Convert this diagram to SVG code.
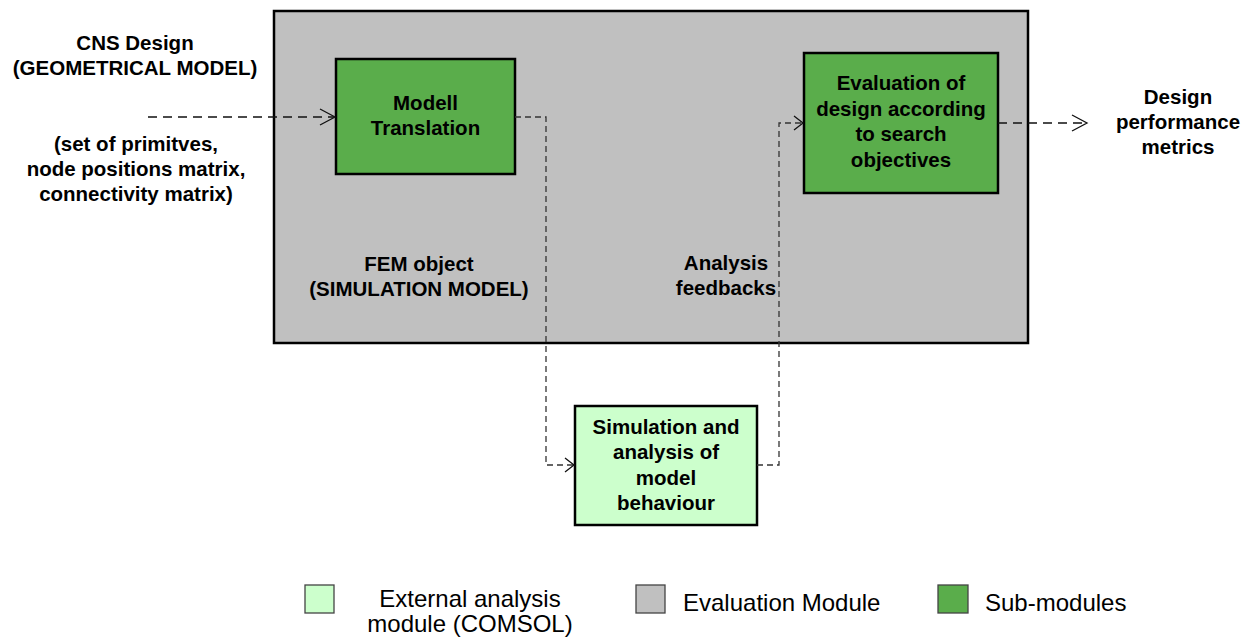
<svg xmlns="http://www.w3.org/2000/svg" width="1260" height="642" viewBox="0 0 1260 642">
  <defs>
    <style>
      .lbl { font-family: "Liberation Sans", Arial, sans-serif; font-weight: bold; font-size: 20.5px; fill: #000; text-anchor: middle; }
      .leg { font-family: "Liberation Sans", Arial, sans-serif; font-size: 24px; fill: #000; }
      .box { stroke: #000; stroke-width: 2.5; }
      .module { fill: #5AAD4B; }
      .external { fill: #CCFFCC; }
      .eval { fill: #C0C0C0; }
      .flow { fill: none; stroke: #333; stroke-width: 1.3; stroke-dasharray: 6 4; }
      .io { fill: none; stroke: #111; stroke-width: 1.5; stroke-dasharray: 9 6; }
      .head { fill: none; stroke: #111; stroke-width: 1.3; }
    </style>
  </defs>

  <rect width="1260" height="642" fill="#fff"/>

  <!-- Evaluation module container -->
  <g id="evaluation-module">
    <rect x="274" y="11" width="754" height="332" class="box eval"/>
    <text class="lbl" x="419" y="271">FEM object</text>
    <text class="lbl" x="419" y="296">(SIMULATION MODEL)</text>
    <text class="lbl" x="726" y="270">Analysis</text>
    <text class="lbl" x="726" y="295">feedbacks</text>
  </g>

  <!-- input description -->
  <g id="input-design">
    <text class="lbl" x="135" y="50">CNS Design</text>
    <text class="lbl" x="135" y="75">(GEOMETRICAL MODEL)</text>
    <text class="lbl" x="136" y="151">(set of primitves,</text>
    <text class="lbl" x="136" y="176">node positions matrix,</text>
    <text class="lbl" x="136" y="201">connectivity matrix)</text>
  </g>

  <g id="modell-translation">
    <rect x="336" y="59" width="179" height="115" class="box module"/>
    <text class="lbl" x="425.5" y="110">Modell</text>
    <text class="lbl" x="425.5" y="135">Translation</text>
  </g>

  <g id="design-evaluation">
    <rect x="804" y="53" width="194" height="140" class="box module"/>
    <text class="lbl" x="901" y="90">Evaluation of</text>
    <text class="lbl" x="901" y="116">design according</text>
    <text class="lbl" x="901" y="141">to search</text>
    <text class="lbl" x="901" y="167">objectives</text>
  </g>

  <g id="simulation-analysis">
    <rect x="575" y="406" width="182" height="119" class="box external"/>
    <text class="lbl" x="666" y="434">Simulation and</text>
    <text class="lbl" x="666" y="459">analysis of</text>
    <text class="lbl" x="666" y="485">model</text>
    <text class="lbl" x="666" y="510">behaviour</text>
  </g>

  <g id="performance-metrics">
    <text class="lbl" x="1178" y="104">Design</text>
    <text class="lbl" x="1178" y="129">performance</text>
    <text class="lbl" x="1178" y="154">metrics</text>
  </g>

  <!-- dashed data flows -->
  <g id="connectors">
    <path class="io" d="M148 117 H334"/>
    <path class="head" d="M320 109 L335 117 L320 125"/>

    <path class="flow" d="M515 117 H546 V465 H573"/>
    <path class="head" d="M565 458 L574 465 L565 472"/>

    <path class="flow" d="M757 465 H779 V123 H802"/>
    <path class="head" d="M794 116 L803 123 L794 130"/>

    <path class="io" d="M998 123 H1086"/>
    <path class="head" d="M1072 115 L1087 123 L1072 131"/>
  </g>

  <!-- legend -->
  <g id="legend">
    <rect x="305" y="585" width="29" height="28" class="external" stroke="#444" stroke-width="1.3"/>
    <text class="leg" x="470" y="607" text-anchor="middle">External analysis</text>
    <text class="leg" x="470" y="632" text-anchor="middle">module (COMSOL)</text>
    <rect x="636" y="585" width="29" height="28" class="eval" stroke="#444" stroke-width="1.3"/>
    <text class="leg" x="683" y="611">Evaluation Module</text>
    <rect x="938" y="585" width="30" height="28" class="module" stroke="#444" stroke-width="1.3"/>
    <text class="leg" x="985" y="611">Sub-modules</text>
  </g>
</svg>
